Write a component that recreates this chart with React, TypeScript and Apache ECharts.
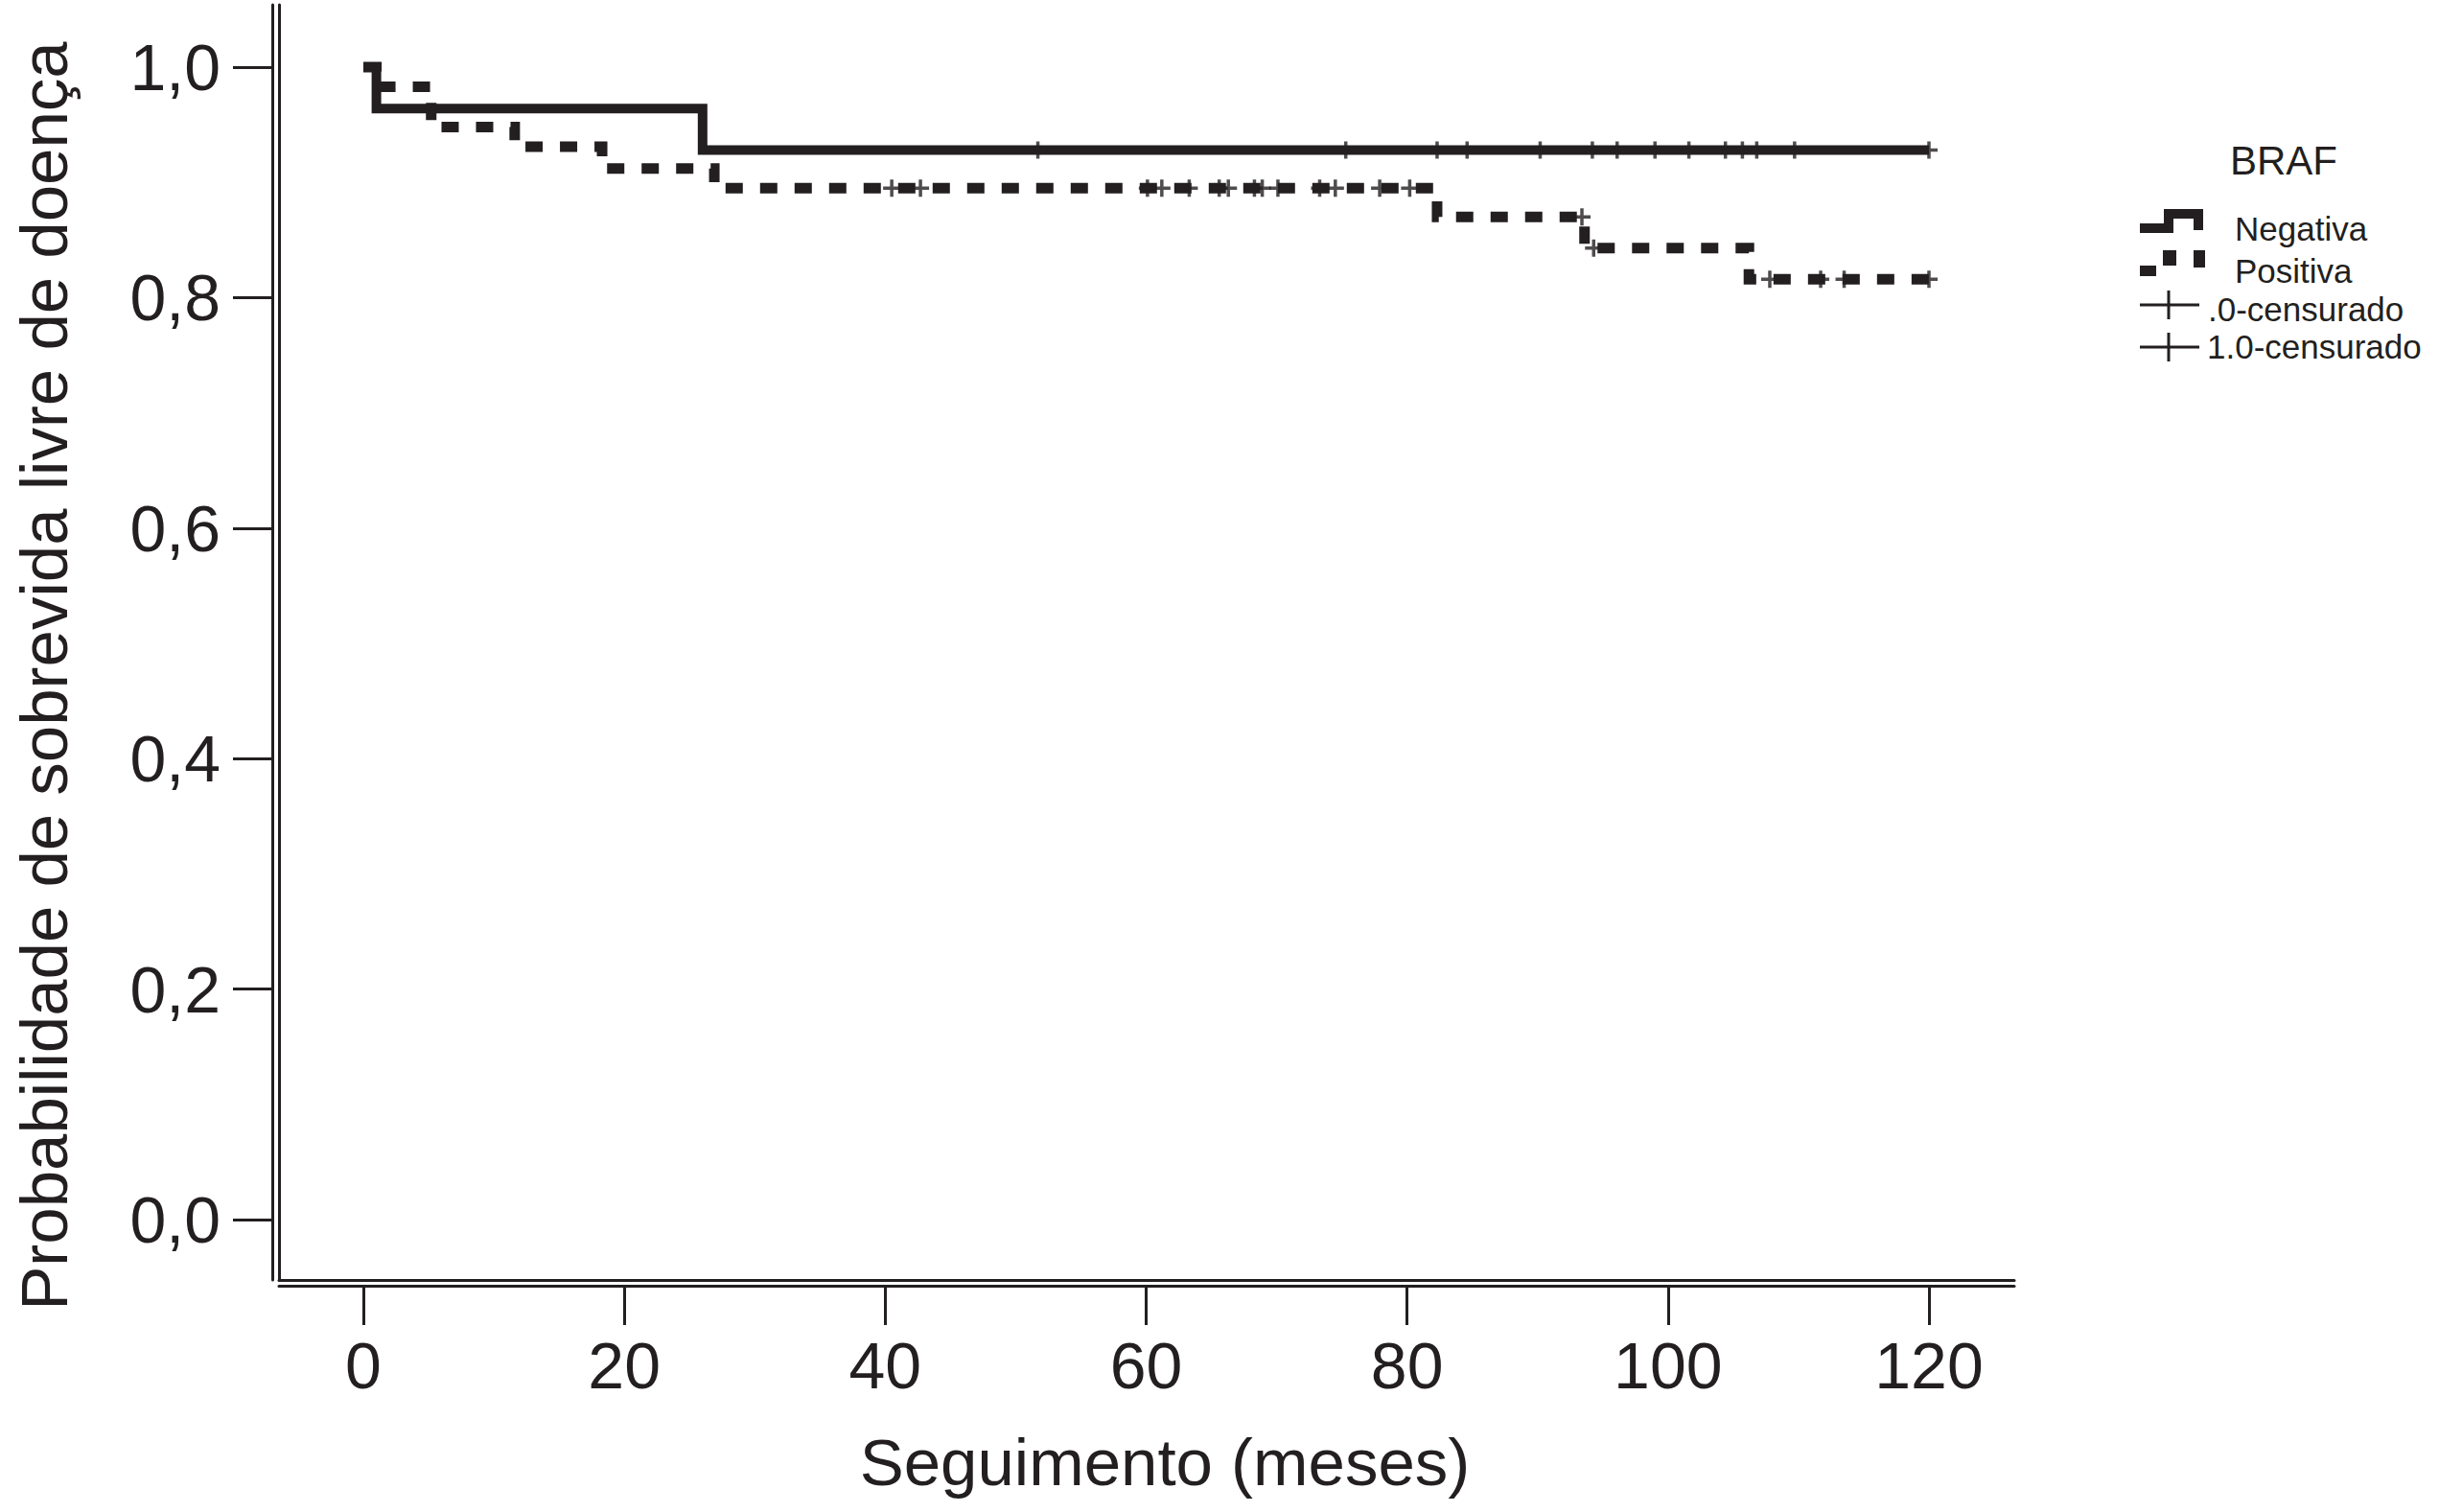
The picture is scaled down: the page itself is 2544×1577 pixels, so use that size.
import React, { useEffect, useRef } from "react";
import * as echarts from "echarts";

const INK = "#231f20";
const FONT = "'Liberation Sans', Arial, Helvetica, sans-serif";

// Axis ticks
const xTicks = [0, 20, 40, 60, 80, 100, 120];
const yTicks = [0, 0.2, 0.4, 0.6, 0.8, 1.0];

// Kaplan-Meier step curves (time in months, survival probability after the step)
const negTimes = [0, 1.0, 26.0, 120];
const negSurv = [1.0, 0.964, 0.928, 0.928];

const posTimes = [0, 1.0, 5.2, 11.6, 18.3, 26.9, 82.3, 93.6, 106.2, 120];
const posSurv = [1.0, 0.983, 0.948, 0.931, 0.912, 0.895, 0.87, 0.843, 0.816, 0.816];

// Censored observations (months)
const negCensorTimes = [51.7, 75.3, 82.3, 84.6, 90.2, 94.2, 96.1, 99.0, 101.6, 104.4, 105.7, 106.8, 109.7, 120];
const posCensorTimes = [
  40.5, 42.7, 60.1, 61.2, 63.3, 65.6, 66.3, 68.3, 68.9, 70.1, 73.3, 74.5, 77.9, 80.2,
  93.4, 94.3, 107.8, 111.7, 113.5, 120,
];

// Texts
const legendTitle = "BRAF";
const legendLabels = ["Negativa", "Positiva", ".0-censurado", "1.0-censurado"];
const xTitle = "Seguimento (meses)";
const yTitle = "Probabilidade de sobrevida livre de doença";

function survAt(times: number[], surv: number[], t: number): number {
  let v = surv[0];
  for (let i = 0; i < times.length; i++) {
    if (times[i] <= t) v = surv[i];
  }
  return v;
}

// Layout (pixels)
const W = 2544;
const H = 1577;
const GRID_LEFT = 291;
const GRID_RIGHT_EDGE = 2101;
const GRID_TOP = 5;
const GRID_BOTTOM_EDGE = 1335;
const X0_PX = 379;
const X120_PX = 2012;
const Y0_PX = 1272;
const Y1_PX = 70;
const PX_PER_MONTH = (X120_PX - X0_PX) / 120;
const PX_PER_UNIT = Y0_PX - Y1_PX;
const X_MIN = -(X0_PX - GRID_LEFT) / PX_PER_MONTH;
const X_MAX = 120 + (GRID_RIGHT_EDGE - X120_PX) / PX_PER_MONTH;
const Y_MIN = -(GRID_BOTTOM_EDGE - Y0_PX) / PX_PER_UNIT;
const Y_MAX = 1 + (Y1_PX - GRID_TOP) / PX_PER_UNIT;

export default function App() {
  const ref = useRef<HTMLDivElement>(null);

  useEffect(() => {
    if (!ref.current) return;
    const chart = echarts.init(ref.current, null, { renderer: "svg" });
    const axisLineStyle = { color: INK, width: 3 };
    const crossPath =
      "path://M7.25,0h3.5v7.25h7.25v3.5h-7.25v7.25h-3.5v-7.25h-7.25v-3.5h7.25z";

    const negData = negTimes.map((t, i) => [t, negSurv[i]]);
    const posData = posTimes.map((t, i) => [t, posSurv[i]]);
    const negCens = negCensorTimes.map((t) => [t, survAt(negTimes, negSurv, t)]);
    const posCens = posCensorTimes.map((t) => [t, survAt(posTimes, posSurv, t)]);

    const baseX = {
      type: "value",
      min: X_MIN,
      max: X_MAX,
      position: "bottom",
      splitLine: { show: false },
    };
    const baseY = {
      type: "value",
      min: Y_MIN,
      max: Y_MAX,
      position: "left",
      splitLine: { show: false },
    };

    const textStyle = (size: number) => ({ fontSize: size, fontFamily: FONT, fill: INK });

    chart.setOption({
      animation: false,
      backgroundColor: "#ffffff",
      grid: {
        left: GRID_LEFT,
        right: W - GRID_RIGHT_EDGE,
        top: GRID_TOP,
        bottom: H - GRID_BOTTOM_EDGE,
        containLabel: false,
        outerBoundsMode: "none",
      },
      xAxis: [
        {
          ...baseX,
          axisLine: { show: true, onZero: false, lineStyle: axisLineStyle },
          axisTick: { show: false },
          axisLabel: { show: false },
        },
        {
          ...baseX,
          offset: 6,
          axisLine: { show: true, onZero: false, lineStyle: axisLineStyle },
          axisTick: {
            show: true,
            inside: false,
            length: 41,
            lineStyle: { color: INK, width: 3 },
            customValues: xTicks,
          },
          axisLabel: {
            show: true,
            customValues: xTicks,
            margin: 49,
            fontSize: 68,
            fontFamily: FONT,
            color: INK,
            formatter: (v: number) => String(Math.round(v)),
          },
        },
      ],
      yAxis: [
        {
          ...baseY,
          axisLine: { show: true, onZero: false, lineStyle: axisLineStyle },
          axisTick: { show: false },
          axisLabel: { show: false },
        },
        {
          ...baseY,
          offset: 7,
          axisLine: { show: true, onZero: false, lineStyle: axisLineStyle },
          axisTick: {
            show: true,
            inside: false,
            length: 41,
            lineStyle: { color: INK, width: 3 },
            customValues: yTicks,
          },
          axisLabel: {
            show: true,
            customValues: yTicks,
            margin: 54,
            fontSize: 68,
            fontFamily: FONT,
            color: INK,
            formatter: (v: number) => v.toFixed(1).replace(".", ","),
          },
        },
      ],
      series: [
        {
          name: legendLabels[0],
          type: "line",
          xAxisIndex: 0,
          yAxisIndex: 0,
          step: "end",
          data: negData,
          symbol: "none",
          lineStyle: { color: INK, width: 10, cap: "butt", join: "miter" },
          z: 3,
        },
        {
          name: legendLabels[1],
          type: "line",
          xAxisIndex: 0,
          yAxisIndex: 0,
          step: "end",
          data: posData,
          symbol: "none",
          lineStyle: { color: INK, width: 11, type: [18, 18], cap: "butt", join: "miter" },
          z: 4,
        },
        {
          name: legendLabels[2],
          type: "scatter",
          xAxisIndex: 0,
          yAxisIndex: 0,
          data: negCens,
          symbol: crossPath,
          symbolSize: 18,
          itemStyle: { color: INK },
          z: 5,
        },
        {
          name: legendLabels[3],
          type: "scatter",
          xAxisIndex: 0,
          yAxisIndex: 0,
          data: posCens,
          symbol: crossPath,
          symbolSize: 18,
          itemStyle: { color: INK },
          z: 5,
        },
      ],
      graphic: [
        {
          type: "text",
          x: 1215,
          y: 1525,
          style: { text: xTitle, ...textStyle(69), align: "center", verticalAlign: "middle" },
        },
        {
          type: "text",
          x: 46,
          y: 705,
          rotation: Math.PI / 2,
          style: { text: yTitle, ...textStyle(69), align: "center", verticalAlign: "middle" },
        },
        {
          type: "text",
          x: 2382,
          y: 167,
          style: { text: legendTitle, ...textStyle(42), align: "center", verticalAlign: "middle" },
        },
        {
          type: "polyline",
          shape: {
            points: [
              [2232, 238],
              [2262, 238],
              [2262, 223],
              [2293, 223],
              [2293, 240],
            ],
          },
          style: { stroke: INK, lineWidth: 10, fill: null, lineJoin: "miter", lineCap: "butt" },
        },
        { type: "rect", shape: { x: 2232, y: 277, width: 17, height: 11 }, style: { fill: INK } },
        { type: "rect", shape: { x: 2256, y: 261, width: 14, height: 16 }, style: { fill: INK } },
        { type: "rect", shape: { x: 2288, y: 261, width: 12, height: 18 }, style: { fill: INK } },
        { type: "line", shape: { x1: 2232, y1: 318, x2: 2294, y2: 318 }, style: { stroke: INK, lineWidth: 3 } },
        { type: "line", shape: { x1: 2262, y1: 303, x2: 2262, y2: 333 }, style: { stroke: INK, lineWidth: 3 } },
        { type: "line", shape: { x1: 2232, y1: 362, x2: 2294, y2: 362 }, style: { stroke: INK, lineWidth: 3 } },
        { type: "line", shape: { x1: 2262, y1: 347, x2: 2262, y2: 377 }, style: { stroke: INK, lineWidth: 3 } },
        {
          type: "text",
          x: 2331,
          y: 238,
          style: { text: legendLabels[0], ...textStyle(35), align: "left", verticalAlign: "middle" },
        },
        {
          type: "text",
          x: 2331,
          y: 282,
          style: { text: legendLabels[1], ...textStyle(35), align: "left", verticalAlign: "middle" },
        },
        {
          type: "text",
          x: 2303,
          y: 322,
          style: { text: legendLabels[2], ...textStyle(35), align: "left", verticalAlign: "middle" },
        },
        {
          type: "text",
          x: 2302,
          y: 361,
          style: { text: legendLabels[3], ...textStyle(35), align: "left", verticalAlign: "middle" },
        },
      ],
    });

    return () => {
      chart.dispose();
    };
  }, []);

  return (
    <div
      ref={ref}
      style={{
        position: "fixed",
        left: 0,
        top: 0,
        width: W + "px",
        height: H + "px",
        background: "#ffffff",
      }}
    />
  );
}
